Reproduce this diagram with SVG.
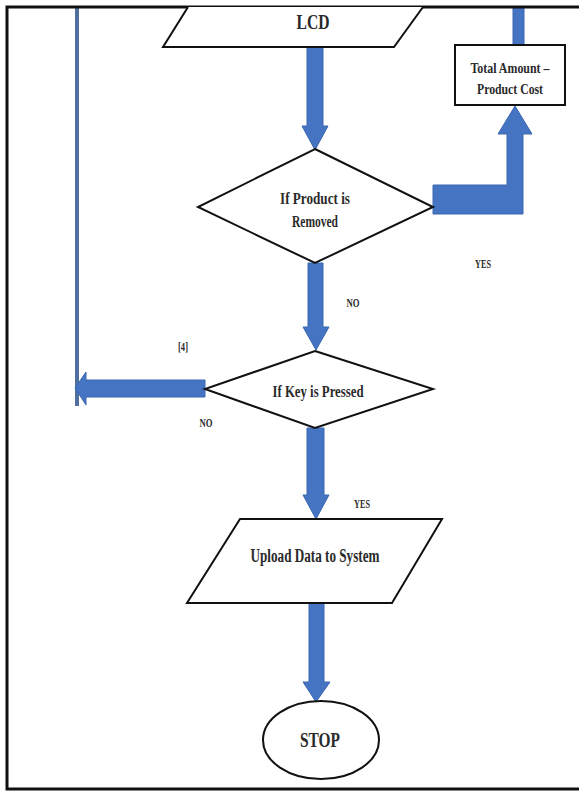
<svg xmlns="http://www.w3.org/2000/svg" width="579" height="792" viewBox="0 0 579 792">
<style>
.shape{fill:#fff;stroke:#111;stroke-width:2}
.ba{fill:#4474C2;stroke:#3a66b0;stroke-width:1}
.t{font-family:"Liberation Serif","Times New Roman",serif;font-weight:bold;fill:#2a2a2a;text-anchor:middle}
</style>
<rect x="0" y="0" width="579" height="792" fill="#fff"/>
<g id="connectors">
  <line x1="77" y1="7" x2="77" y2="406" stroke="#4f6f9f" stroke-width="4"/>
  <rect class="ba" x="513" y="7" width="11" height="38"/>
  <polygon class="ba" points="307,47 323,47 323,126 328,126 315,150 302,126 307,126"/>
  <polygon class="ba" points="308,263 323,263 323,327 329,327 316,350 303,327 308,327"/>
  <polygon class="ba" points="307,428 324,428 324,495 329,495 316,519 303,495 307,495"/>
  <polygon class="ba" points="309,603 324,603 324,682 330,682 316,702 303,682 309,682"/>
  <polygon class="ba" points="433,185 507,185 507,134 498,134 515,106 532,134 523,134 523,214 433,214"/>
  <polygon class="ba" points="205,380 86,380 86,372 75,388 86,405 86,397 205,397"/>
</g>
<g id="frame">
  <path d="M590 7 H7 V789 H590" fill="none" stroke="#111" stroke-width="3"/>
</g>
<g id="lcd">
  <path class="shape" d="M188 7 L163 47 L394 47 L423 7"/>
  <text class="t" x="313" y="29" font-size="20" textLength="33" lengthAdjust="spacingAndGlyphs">LCD</text>
</g>
<g id="total">
  <rect class="shape" x="455" y="45" width="110" height="60" stroke-width="1.5"/>
  <text class="t" x="510" y="73" font-size="14" textLength="79" lengthAdjust="spacingAndGlyphs">Total Amount –</text>
  <text class="t" x="510" y="94" font-size="14" textLength="66" lengthAdjust="spacingAndGlyphs">Product Cost</text>
</g>
<g id="removed">
  <polygon class="shape" points="315,149 433,207 315,263 198,207"/>
  <text class="t" x="315" y="204" font-size="17" textLength="70" lengthAdjust="spacingAndGlyphs">If Product is</text>
  <text class="t" x="315" y="227" font-size="17" textLength="46" lengthAdjust="spacingAndGlyphs">Removed</text>
</g>
<g id="key">
  <polygon class="shape" points="315,351 433,389 315,428 205,389"/>
  <text class="t" x="318" y="397" font-size="16" textLength="91" lengthAdjust="spacingAndGlyphs">If Key is Pressed</text>
</g>
<g id="upload">
  <polygon class="shape" points="240,519 442,519 392,603 187,603"/>
  <text class="t" x="315" y="562" font-size="18" textLength="129" lengthAdjust="spacingAndGlyphs">Upload Data to System</text>
</g>
<g id="stop">
  <ellipse class="shape" cx="321" cy="740" rx="58" ry="39"/>
  <text class="t" x="320" y="747" font-size="20" textLength="40" lengthAdjust="spacingAndGlyphs">STOP</text>
</g>
<g id="labels">
  <text class="t" x="483" y="268" font-size="13" textLength="16" lengthAdjust="spacingAndGlyphs">YES</text>
  <text class="t" x="353" y="307" font-size="13" textLength="13" lengthAdjust="spacingAndGlyphs">NO</text>
  <text class="t" x="183" y="351" font-size="13" textLength="10" lengthAdjust="spacingAndGlyphs">[4]</text>
  <text class="t" x="206" y="427" font-size="13" textLength="13" lengthAdjust="spacingAndGlyphs">NO</text>
  <text class="t" x="362" y="508" font-size="13" textLength="16" lengthAdjust="spacingAndGlyphs">YES</text>
</g>
</svg>
